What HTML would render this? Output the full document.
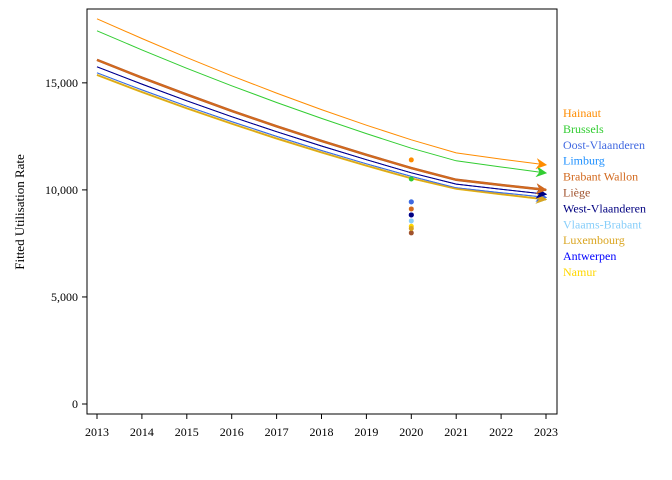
<!DOCTYPE html>
<html><head><meta charset="utf-8"><style>
body{margin:0;background:#fff;}
svg{display:block;font-family:"Liberation Serif",serif;}
</style></head><body>
<svg id="chart" width="672" height="480">
<defs id="defs"></defs>
<rect x="87" y="9" width="470" height="405" fill="#fff" stroke="#000" stroke-width="1"/>
<text x="24" y="212" font-size="13" text-anchor="middle" transform="rotate(-90 24 212)">Fitted Utilisation Rate</text>
<g id="axes"></g><g id="lines"></g><g id="dots"></g><g id="legend"></g>
</svg>
<script>
const years=[2013,2014,2015,2016,2017,2018,2019,2020,2021,2022,2023];
const yTicks=[0,5000,10000,15000];
const regions=["Hainaut","Brussels","Oost-Vlaanderen","Limburg","Brabant Wallon","Liège","West-Vlaanderen","Vlaams-Brabant","Luxembourg","Antwerpen","Namur"];
const colors=["#ff8c00","#32cd32","#4169e1","#1e90ff","#d2691e","#a0522d","#000080","#87cefa","#daa520","#0000ff","#ffd700"];
const hainaut=[17990,17070,16180,15330,14520,13750,13020,12340,11730,11440,11170];
const brussels=[17430,16540,15680,14860,14080,13340,12630,11950,11360,11070,10790];
const brown=[16070,15240,14450,13690,12970,12290,11640,11020,10470,10230,10000];
const westVl=[15750,14940,14160,13420,12720,12050,11410,10800,10270,10030,9800];
const blueGroup=[15470,14670,13910,13190,12500,11840,11220,10630,10100,9870,9650];
const yellowGroup=[15370,14570,13810,13090,12400,11750,11130,10540,10050,9800,9550];
const seriesValues=[hainaut,brussels,blueGroup,blueGroup,brown,brown,westVl,yellowGroup,yellowGroup,westVl,yellowGroup];
const lineWidths=[1,1,1,1,2,2.5,1,1,1.5,1,2];
const dotYear=2020;
const dotValues=[11400,10510,9440,9440,9110,7990,8830,8550,8200,8830,8300];

const ns="http://www.w3.org/2000/svg";
const X=v=>97+(v-2013)*44.9;
const Y=v=>404-v*0.02141;
function mk(t,a,p){const e=document.createElementNS(ns,t);for(const k in a)e.setAttribute(k,a[k]);p.appendChild(e);return e;}
const axes=document.getElementById('axes');
years.forEach(yr=>{
  const t=mk('line',{x1:X(yr),x2:X(yr),y1:414,y2:419,stroke:'#000'},axes);
  
  
  const l=mk('text',{x:X(yr),y:436,'font-size':12,'text-anchor':'middle'},axes);
  l.textContent=yr;
  
  
});
yTicks.forEach(v=>{
  const t=mk('line',{x1:82,x2:87,y1:Y(v),y2:Y(v),stroke:'#000'},axes);
  
  
  const l=mk('text',{x:78,y:Y(v)+4,'font-size':12,'text-anchor':'end'},axes);
  l.textContent=v.toLocaleString('en-US');
  
  
});
const defs=document.getElementById('defs');
const lines=document.getElementById('lines');
const order=[10,7,3,2,8,9,6,5,4,1,0];
order.forEach(i=>{
  const m=mk('marker',{id:'ar'+i,viewBox:'0 0 10 10',refX:9,refY:5,markerWidth:11,markerHeight:11,markerUnits:'userSpaceOnUse',orient:'auto'},defs);
  mk('path',{d:'M0,0 L10,5 L0,10 L3,5 Z',fill:colors[i]},m);
  const d=seriesValues[i].map((v,k)=>(k?'L':'M')+X(years[k]).toFixed(1)+','+Y(v).toFixed(1)).join(' ');
  const p=mk('path',{d:d,fill:'none',stroke:colors[i],'stroke-width':lineWidths[i],'marker-end':'url(#ar'+i+')'},lines);
  
  
});
const dots=document.getElementById('dots');
[3,0,1,2,4,5,9,6,7,10,8].forEach(i=>{
  const c=mk('circle',{cx:X(dotYear),cy:Y(dotValues[i]),r:2.5,fill:colors[i]},dots);
  
  
});
const lg=document.getElementById('legend');
regions.forEach((r,i)=>{
  const t=mk('text',{x:563,y:117+i*15.9,'font-size':12,fill:colors[i]},lg);
  t.textContent=r;
  
  
});
</script>
</body></html>
